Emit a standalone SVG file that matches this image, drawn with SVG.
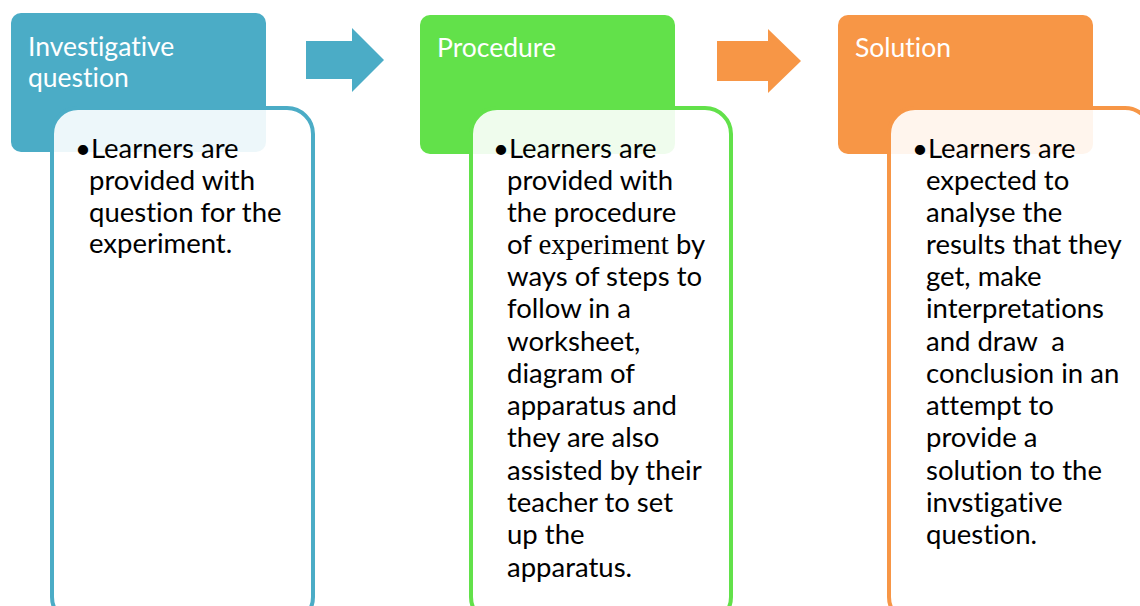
<svg xmlns="http://www.w3.org/2000/svg" width="1140" height="606" viewBox="0 0 1140 606">
<style>
.hdr{stroke:none}
.det{fill:#ffffff;fill-opacity:0.9;stroke-width:4}
.ht{font-family:Lato,"Liberation Sans",Arial,sans-serif;font-size:26.5px;fill:#ffffff;font-variant-ligatures:none}
.dt{font-family:Lato,"Liberation Sans",Arial,sans-serif;font-size:27.5px;fill:#000000;font-variant-ligatures:none}
.serif{font-family:"Liberation Serif","Times New Roman",serif;font-size:29px}
</style>
<rect width="1140" height="606" fill="#ffffff"/>
<g id="connectors">
<polygon points="306,41 352,41 352,28 384,60 352,92 352,79 306,79" fill="#4BACC6"/>
<polygon points="717,41 768,41 768,29 801,61 768,93 768,81 717,81" fill="#F79646"/>
</g>
<g id="node-investigative">
<rect class="hdr" x="11" y="13" width="255" height="139" rx="10" fill="#4BACC6"/>
<text class="ht" x="28" y="56">Investigative</text>
<text class="ht" x="28" y="87">question</text>
<rect class="det" x="52" y="108" width="261" height="515" rx="26" stroke="#4BACC6"/>
<text class="dt"><tspan x="75" y="158">•Learners are</tspan><tspan x="89" y="190">provided with</tspan><tspan x="89" y="222">question for the</tspan><tspan x="89" y="253">experiment.</tspan></text>
</g>
<g id="node-procedure">
<rect class="hdr" x="420" y="15" width="255" height="139" rx="10" fill="#62E14A"/>
<text class="ht" x="437" y="57">Procedure</text>
<rect class="det" x="471" y="108" width="260" height="515" rx="26" stroke="#62E14A"/>
<text class="dt"><tspan x="493" y="158">•Learners are</tspan><tspan x="507" y="190">provided with</tspan><tspan x="507" y="222">the procedure</tspan><tspan x="507" y="254">of <tspan class="serif">experiment</tspan> by</tspan><tspan x="507" y="286">ways of steps to</tspan><tspan x="507" y="318">follow in a</tspan><tspan x="507" y="351">worksheet,</tspan><tspan x="507" y="383">diagram of</tspan><tspan x="507" y="415">apparatus and</tspan><tspan x="507" y="447">they are also</tspan><tspan x="507" y="480">assisted by their</tspan><tspan x="507" y="512">teacher to set</tspan><tspan x="507" y="544">up the</tspan><tspan x="507" y="577">apparatus.</tspan></text>
</g>
<g id="node-solution">
<rect class="hdr" x="838" y="15" width="255" height="139" rx="10" fill="#F79646"/>
<text class="ht" x="855" y="57">Solution</text>
<rect class="det" x="889" y="108" width="262" height="515" rx="26" stroke="#F79646"/>
<text class="dt"><tspan x="912" y="158">•Learners are</tspan><tspan x="926" y="190">expected to</tspan><tspan x="926" y="222">analyse the</tspan><tspan x="926" y="254">results that they</tspan><tspan x="926" y="286">get, make</tspan><tspan x="926" y="318">interpretations</tspan><tspan x="926" y="351" xml:space="preserve">and draw  a</tspan><tspan x="926" y="383">conclusion in an</tspan><tspan x="926" y="415">attempt to</tspan><tspan x="926" y="447">provide a</tspan><tspan x="926" y="480">solution to the</tspan><tspan x="926" y="512">invstigative</tspan><tspan x="926" y="544">question.</tspan></text>
</g>
</svg>
